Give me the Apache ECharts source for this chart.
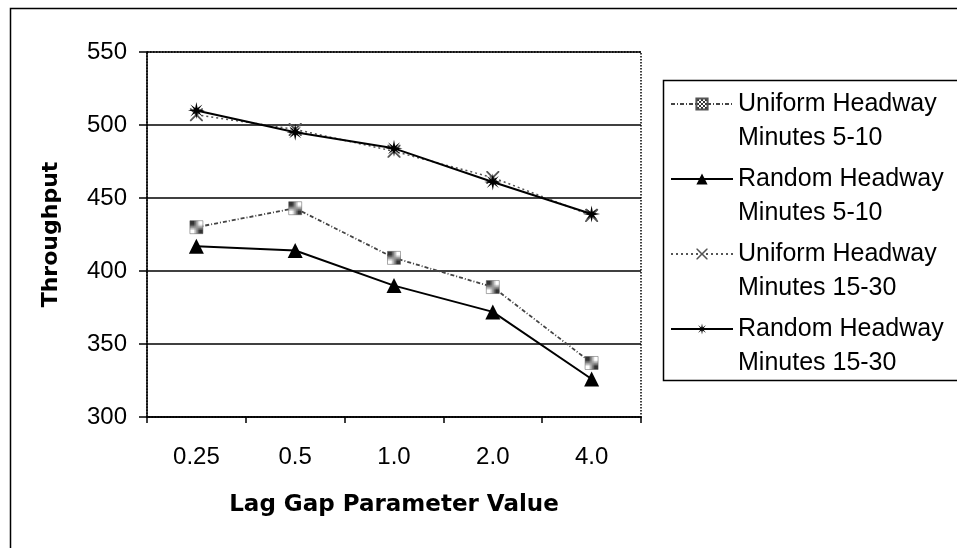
<!DOCTYPE html>
<html>
<head>
<meta charset="utf-8">
<script src="https://cdn.jsdelivr.net/npm/echarts@6/dist/echarts.min.js"></script>
<style>
  html, body { margin: 0; padding: 0; background: #fff; }
  #chart { width: 957px; height: 548px; }
</style>
</head>
<body>
<div id="chart"></div>
<script>
const categories = ['0.25', '0.5', '1.0', '2.0', '4.0'];
const uniform5to10 = [430, 443, 409, 389, 337];
const random5to10 = [417, 414, 390, 372, 326];
const uniform15to30 = [507, 497, 482, 464, 438];
const random15to30 = [510, 495, 484, 461, 439];
const seriesNames = [
  'Uniform Headway\nMinutes 5-10',
  'Random Headway\nMinutes 5-10',
  'Uniform Headway\nMinutes 15-30',
  'Random Headway\nMinutes 15-30',
];

const font = 'Liberation Sans, Arial, sans-serif';
const titleFont = 'DejaVu Sans, sans-serif';

// small checkered fill for the square markers
const checker = document.createElement('canvas');
checker.width = 4;
checker.height = 4;
const cx = checker.getContext('2d');
cx.fillStyle = '#fff';
cx.fillRect(0, 0, 4, 4);
cx.fillStyle = '#333';
cx.fillRect(0, 0, 2, 2);
cx.fillRect(2, 2, 2, 2);

const starPath = 'path://M0,-10 L1.4,-2.8 L7.07,-7.07 L2.8,-1.4 L10,0 L2.8,1.4 L7.07,7.07 L1.4,2.8 L0,10 L-1.4,2.8 L-7.07,7.07 L-2.8,1.4 L-10,0 L-2.8,-1.4 L-7.07,-7.07 L-1.4,-2.8 Z';
const crossPath = 'path://M-10,-10 L-8,-10 L0,-2 L8,-10 L10,-10 L10,-8 L2,0 L10,8 L10,10 L8,10 L0,2 L-8,10 L-10,10 L-10,8 L-2,0 L-10,-8 Z';

const chart = echarts.init(document.getElementById('chart'));
chart.setOption({
  animation: false,
  backgroundColor: '#fff',
  textStyle: { fontFamily: font },
  graphic: [
    {
      type: 'rect',
      shape: { x: 10.5, y: 8.5, width: 1000, height: 700 },
      style: { fill: 'none', stroke: '#000', lineWidth: 1.5 },
      silent: true,
    },
    {
      type: 'rect',
      shape: { x: 663.5, y: 80.5, width: 400, height: 300 },
      style: { fill: 'none', stroke: '#000', lineWidth: 1.5 },
      silent: true,
    },
  ],
  grid: {
    left: 147,
    right: 316,
    top: 52,
    bottom: 131,
    show: true,
    borderColor: '#000',
    borderWidth: 1.5,
    borderType: 'dotted',
  },
  legend: {
    orient: 'vertical',
    left: 670,
    top: 53,
    padding: 0,
    itemWidth: 62,
    itemHeight: 14,
    itemGap: -27,
    data: seriesNames,
    // blank first line puts the icon level with the first text line
    formatter: (name) => '\n' + name,
    textStyle: {
      fontFamily: font,
      fontSize: 25,
      color: '#000',
      lineHeight: 34,
    },
  },
  xAxis: {
    type: 'category',
    boundaryGap: true,
    data: categories,
    name: 'Lag Gap Parameter Value',
    nameLocation: 'middle',
    nameGap: 77,
    nameTextStyle: { fontFamily: titleFont, fontSize: 23, fontWeight: 'bold', color: '#000' },
    axisLine: { lineStyle: { color: '#000', width: 1.5 } },
    axisTick: { show: true, interval: 0, length: 6, lineStyle: { color: '#000', width: 1.5 } },
    axisLabel: { fontFamily: font, fontSize: 24, color: '#000', margin: 28 },
    splitLine: { show: false },
  },
  yAxis: {
    type: 'value',
    min: 300,
    max: 550,
    interval: 50,
    name: 'Throughput',
    nameLocation: 'middle',
    nameGap: 85,
    nameTextStyle: { fontFamily: titleFont, fontSize: 22, fontWeight: 'bold', color: '#000' },
    axisLine: { show: true, lineStyle: { color: '#000', width: 1.5 } },
    axisTick: { show: true, length: 8, lineStyle: { color: '#000', width: 1.5 } },
    axisLabel: { fontFamily: font, fontSize: 24, color: '#000', margin: 20 },
    splitLine: { show: true, lineStyle: { color: '#000', width: 1.5 } },
  },
  series: [
    {
      name: seriesNames[0],
      type: 'line',
      data: uniform5to10,
      symbol: 'rect',
      symbolSize: 13,
      lineStyle: { color: '#444', width: 1.8, type: [4, 2, 1, 2] },
      itemStyle: { color: { image: checker, repeat: 'repeat' }, borderColor: '#555', borderWidth: 0.5 },
      z: 2,
    },
    {
      name: seriesNames[1],
      type: 'line',
      data: random5to10,
      symbol: 'triangle',
      symbolSize: 15,
      lineStyle: { color: '#000', width: 2 },
      itemStyle: { color: '#000' },
      z: 3,
    },
    {
      name: seriesNames[2],
      type: 'line',
      data: uniform15to30,
      symbol: crossPath,
      symbolSize: 13,
      lineStyle: { color: '#555', width: 1.5, type: [2, 3] },
      itemStyle: { color: '#555' },
      z: 2,
    },
    {
      name: seriesNames[3],
      type: 'line',
      data: random15to30,
      symbol: starPath,
      symbolSize: 17,
      lineStyle: { color: '#000', width: 2 },
      itemStyle: { color: '#000' },
      z: 3,
    },
  ],
});
</script>
</body>
</html>
